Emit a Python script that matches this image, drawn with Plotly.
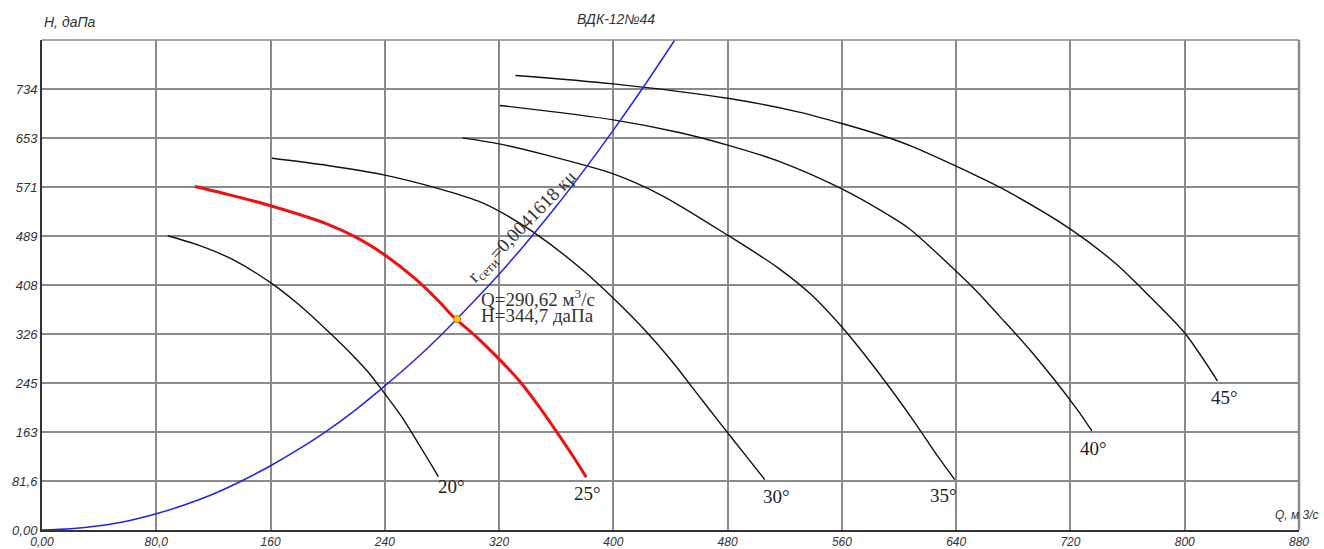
import plotly.graph_objects as go

# ---- data ----
x_ticks = [0, 80, 160, 240, 320, 400, 480, 560, 640, 720, 800, 880]
x_tick_labels = ["0,00", "80,0", "160", "240", "320", "400", "480", "560", "640", "720", "800", "880"]
y_ticks = [0, 81.6, 163.2, 244.8, 326.4, 408, 489.6, 571.2, 652.8, 734.4]
y_tick_labels = ["0,00", "81,6", "163", "245", "326", "408", "489", "571", "653", "734"]

q20 = [88, 110, 133, 160, 180, 198, 215, 228, 240, 252, 263, 275, 277.5]
h20 = [490, 474, 451, 412, 375, 336, 297, 264, 227, 188, 146, 99, 89]

q25 = [107, 130, 160, 198, 221, 240, 261, 277, 288, 303, 319, 335, 349, 361, 372, 381]
h25 = [572, 559, 540, 511, 486, 458, 419, 383, 355, 324, 287, 246, 202, 161, 122, 88]

q30 = [161, 200, 240, 277, 305, 320, 344, 376, 400, 422, 441, 457, 474, 492, 506]
h30 = [619, 607, 591, 569, 548, 531, 496, 438, 386, 333, 281, 232, 180, 126, 84]

q35 = [294.5, 320, 352, 400, 434, 480, 515, 539, 560, 585, 609, 627, 639]
h35 = [653, 643, 625, 593, 557, 491, 437, 391, 338, 264, 186, 123, 84]

q40 = [320.5, 400, 446, 480, 516, 560, 597, 607, 640, 655, 670, 693, 724, 735]
h40 = [707, 683, 662, 641, 614, 568, 518, 502, 431, 396, 357, 296, 203, 165]

q45 = [331.5, 400, 480, 530, 560, 588, 609, 640, 655, 675, 720, 752, 775, 800, 823]
h45 = [757, 743, 719, 696, 677, 657, 639, 606, 589, 565, 501, 443, 390, 328, 248]

q_net = [0, 20, 40, 60, 80, 100, 120, 140, 160, 180, 200, 220, 240, 260, 280, 300, 320, 340, 360, 380, 400, 420, 443]
h_net = [0, 2, 7, 15, 27, 42, 60, 82, 107, 135, 166, 201, 240, 281, 326, 375, 426, 481, 539, 601, 666, 734, 816]

op_q = [290.62]
op_h = [351]

angle_labels = ["20°", "25°", "30°", "35°", "40°", "45°"]
angle_q = [287, 382, 514.5, 631, 736, 828]
angle_h = [72, 60, 55, 58, 135, 221]

fig = go.Figure()

for q, h in [(q20, h20), (q30, h30), (q35, h35), (q40, h40), (q45, h45)]:
    fig.add_trace(go.Scatter(x=q, y=h, mode="lines",
                             line=dict(color="#111111", width=1.4, shape="spline", smoothing=0.8),
                             showlegend=False, hoverinfo="skip"))

fig.add_trace(go.Scatter(x=q_net, y=h_net, mode="lines",
                         line=dict(color="#2323e6", width=1.5, shape="spline", smoothing=0.8),
                         showlegend=False, hoverinfo="skip"))
fig.add_trace(go.Scatter(x=q25, y=h25, mode="lines",
                         line=dict(color="#ee1111", width=3, shape="spline", smoothing=0.8),
                         showlegend=False, hoverinfo="skip"))
fig.add_trace(go.Scatter(x=op_q, y=op_h, mode="markers",
                         marker=dict(color="#ffe000", size=7, line=dict(color="#ff5500", width=1)),
                         showlegend=False, hoverinfo="skip"))

serif = "Liberation Serif, Times New Roman, serif"
sans = "Liberation Sans, Arial, sans-serif"

for lab, q, h in zip(angle_labels, angle_q, angle_h):
    fig.add_annotation(x=q, y=h, text=lab, showarrow=False, xanchor="center", yanchor="middle",
                       font=dict(family=serif, size=19, color="#222222"))

fig.add_annotation(x=306, y=386, text="Q=290,62 м<sup>3</sup>/с", showarrow=False, xanchor="left", yanchor="middle",
                   font=dict(family=serif, size=19, color="#333333"))
fig.add_annotation(x=306, y=357, text="H=344,7 даПа", showarrow=False, xanchor="left", yanchor="middle",
                   font=dict(family=serif, size=19, color="#333333"))
fig.add_annotation(x=336.5, y=505, text="r<sub>сети</sub>=0,0041618 кμ", showarrow=False, textangle=-46,
                   xanchor="center", yanchor="middle",
                   font=dict(family=serif, size=19, color="#333333"))

fig.add_annotation(xref="paper", yref="paper", x=0.457, y=1.043, text="ВДК-12№44", showarrow=False,
                   xanchor="center", yanchor="middle",
                   font=dict(family=sans, size=14, color="#333333", style="italic"))
fig.add_annotation(xref="paper", yref="paper", x=0.0, y=1.037, text="H, даПа", showarrow=False,
                   xanchor="left", yanchor="middle",
                   font=dict(family=sans, size=14, color="#333333", style="italic"))
fig.add_annotation(xref="paper", yref="paper", x=0.9984, y=0.0306, text="Q, м 3/с", showarrow=False,
                   xanchor="center", yanchor="middle",
                   font=dict(family=sans, size=12, color="#333333", style="italic"))

fig.update_layout(
    width=1324, height=549,
    margin=dict(l=42, r=25, t=40, b=19),
    plot_bgcolor="white", paper_bgcolor="white",
    xaxis=dict(range=[0, 880], tickvals=x_ticks, ticktext=x_tick_labels, showgrid=True,
               gridcolor="#8a8a8a", gridwidth=1.5, zeroline=False, showline=True, linecolor="#333333",
               linewidth=2, mirror=False, ticks="", automargin=False,
               tickfont=dict(family=sans, size=12, color="#333333", style="italic")),
    yaxis=dict(range=[0, 816], tickvals=y_ticks, ticktext=y_tick_labels, showgrid=True,
               gridcolor="#8a8a8a", gridwidth=1.5, zeroline=False, showline=True, linecolor="#333333",
               linewidth=2, mirror=False, ticks="", automargin=False,
               tickfont=dict(family=sans, size=13, color="#333333", style="italic")),
)

# right and top border in grey
fig.add_shape(type="line", xref="paper", yref="paper", x0=1, x1=1, y0=0, y1=1,
              line=dict(color="#8a8a8a", width=2.5))
fig.add_shape(type="line", xref="paper", yref="paper", x0=0, x1=1, y0=1, y1=1,
              line=dict(color="#8a8a8a", width=1.5))

fig.write_html("out.html", config={"displayModeBar": False},
               post_script="document.body.style.margin='0';document.body.style.padding='0';"
                           "document.body.style.overflow='hidden';")
